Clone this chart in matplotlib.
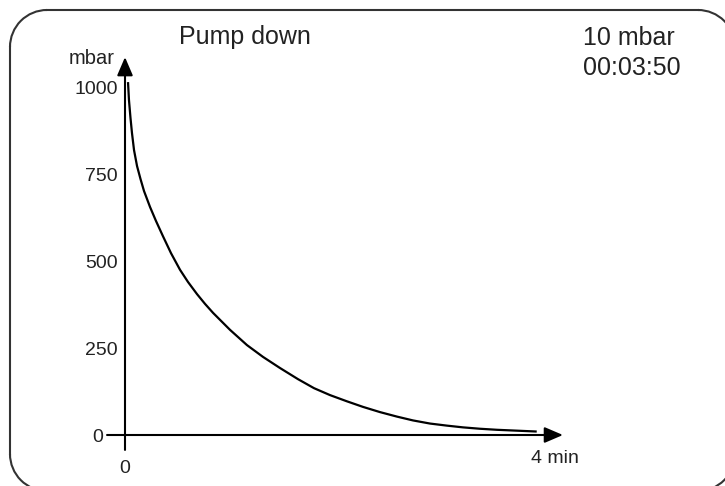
"""Pump-down curve: chamber pressure falling from atmosphere to 10 mbar."""

import matplotlib

matplotlib.use("Agg")
import matplotlib.pyplot as plt
from matplotlib.lines import Line2D
from matplotlib.patches import Arc
from matplotlib.transforms import IdentityTransform

W, H = 725, 486

# Pressure readings along the pump-down (minutes, mbar)
t_min = [0.028, 0.037, 0.051, 0.065, 0.084, 0.112, 0.144, 0.177, 0.233, 0.288,
         0.353, 0.428, 0.512, 0.586, 0.670, 0.744, 0.819, 0.977, 1.135, 1.284,
         1.442, 1.609, 1.758, 1.907, 2.065, 2.214, 2.372, 2.530, 2.679, 2.837,
         2.995, 3.144, 3.302, 3.460, 3.83]
p_mbar = [1017, 965, 914, 870, 821, 775, 738, 703, 657, 617,
          573, 524, 476, 441, 406, 378, 352, 303, 259, 225,
          193, 161, 135, 115, 97, 81, 66, 53, 42, 33,
          27, 22, 18, 15, 10]

y_ticks = [0, 250, 500, 750, 1000]
y_labels = ["0", "250", "500", "750", "1000"]
x_ticks = [0, 4]
x_labels = ["0", "4 min"]

title = "Pump down"
status = "10 mbar\n00:03:50"

INK = "#000000"
TXT = "#222222"
FRAME = "#333333"

plt.rcParams["font.family"] = ["Liberation Sans", "DejaVu Sans"]

fig = plt.figure(figsize=(W / 100, H / 100), dpi=100)

# rounded display frame in device pixels (origin bottom left); right and
# bottom sides lie just past the canvas, only their corners show
px = IdentityTransform()
x0, x1, y0, y1, r = 10, 735, -5, 476, 37
fk = dict(color=FRAME, lw=1.5, transform=px)
for xs, ys in (([x0 + r, x1 - r], [y1, y1]), ([x0 + r, x1 - r], [y0, y0]),
               ([x0, x0], [y0 + r, y1 - r]), ([x1, x1], [y0 + r, y1 - r])):
    fig.add_artist(Line2D(xs, ys, **fk))
for cx, cy, a in ((x0 + r, y1 - r, 90), (x0 + r, y0 + r, 180),
                  (x1 - r, y0 + r, 270), (x1 - r, y1 - r, 0)):
    fig.add_artist(Arc((cx, cy), 2 * r, 2 * r, theta1=a, theta2=a + 90,
                       ec=FRAME, lw=1.5, transform=px))

ax = fig.add_axes([125 / W, 51 / H, 430 / W, 347 / H])
ax.set_xlim(0, 4)
ax.set_ylim(0, 1000)
for s in ax.spines.values():
    s.set_visible(False)
ax.patch.set_alpha(0)

# axis arrows; the short stubs past the origin act as the zero ticks
arrow = dict(arrowstyle="-|>,head_length=0.7,head_width=0.3", color=INK,
             lw=1.5, shrinkA=0, shrinkB=0, mutation_scale=16)
ax.annotate("", xy=(0, 1089), xytext=(0, -43), arrowprops=arrow,
            annotation_clip=False)
ax.annotate("", xy=(4.074, 0), xytext=(-0.167, 0), arrowprops=arrow,
            annotation_clip=False)

ax.plot(t_min, p_mbar, color=INK, lw=1.6, solid_capstyle="butt",
        solid_joinstyle="round", clip_on=False)

ax.set_yticks(y_ticks, y_labels)
ax.set_xticks(x_ticks, x_labels)
ax.tick_params(length=0, labelsize=14, labelcolor=TXT)
ax.tick_params(axis="y", pad=5)
ax.tick_params(axis="x", pad=11)
ax.yaxis.get_major_ticks()[0].set_pad(16)
ax.xaxis.get_major_ticks()[0].set_pad(18)

fig.text(115 / W, 1 - 58 / H, "mbar", ha="right", va="center",
         fontsize=14.5, color=TXT)
fig.text(245 / W, 1 - 37 / H, title, ha="center", va="center",
         fontsize=18, color=TXT)
fig.text(583 / W, 1 - 53 / H, status, ha="left", va="center",
         fontsize=18, color=TXT, linespacing=1.3)

fig.savefig("out.png", dpi=100)
